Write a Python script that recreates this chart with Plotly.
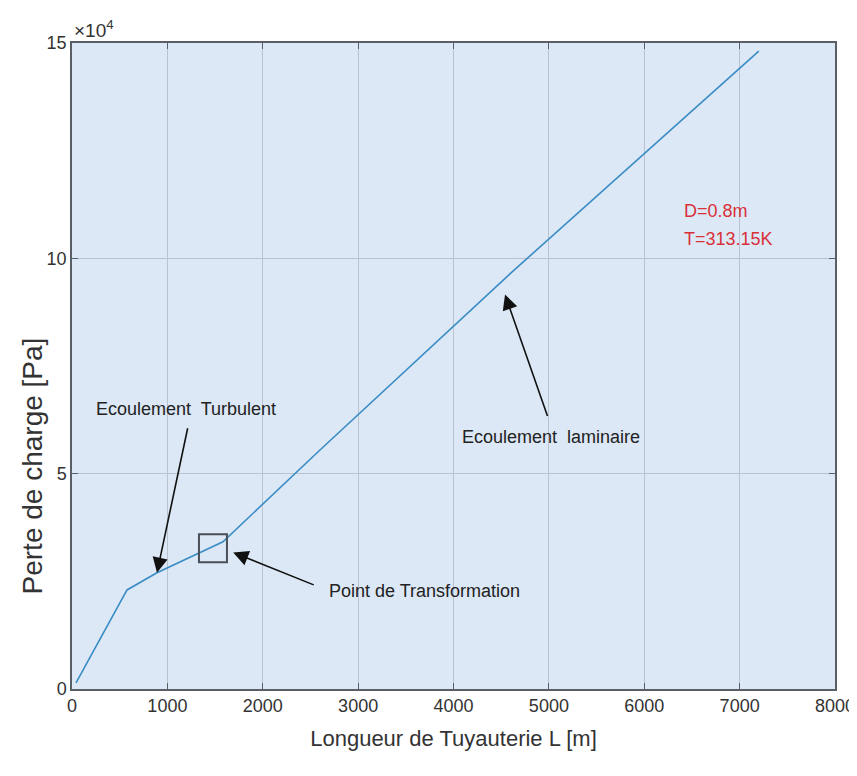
import plotly.graph_objects as go

# Data
length_m = [42, 577, 891, 1583, 2600, 3753, 4612, 7201]
pressure_loss_pa = [1400, 23000, 27000, 34200, 55500, 79300, 96800, 148100]

transform_L = [1478]
transform_dp = [32700]

x_ticks = [0, 1000, 2000, 3000, 4000, 5000, 6000, 7000, 8000]
y_tickvals = [0, 50000, 100000, 150000]
y_ticktext = ["0", "5", "10", "15"]

FONT = "Liberation Sans, Arial, sans-serif"

fig = go.Figure()
fig.add_trace(go.Scatter(x=length_m, y=pressure_loss_pa, mode="lines",
                         line=dict(color="#3a8cc4", width=1.6), showlegend=False))
fig.add_trace(go.Scatter(x=transform_L, y=transform_dp, mode="markers",
                         marker=dict(symbol="square-open", size=28,
                                     line=dict(color="#4a4f57", width=2), color="#4a4f57"),
                         showlegend=False))

ann_font = dict(family=FONT, size=18, color="#222")
arrow = dict(showarrow=True, arrowhead=2, arrowsize=1.9, arrowwidth=1.6, arrowcolor="#111", text="")
fig.add_annotation(x=891, y=27000, ax=31, ay=-146, **arrow)
fig.add_annotation(x=1195, y=65100, xanchor="center", yanchor="middle",
                   text="Ecoulement  Turbulent", showarrow=False, font=ann_font)
fig.add_annotation(x=1690, y=31700, ax=82, ay=33, **arrow)
fig.add_annotation(x=3700, y=22800, xanchor="center", yanchor="middle",
                   text="Point de Transformation", showarrow=False, font=ann_font)
fig.add_annotation(x=4540, y=91600, ax=43, ay=123, **arrow)
fig.add_annotation(x=5021, y=58600, xanchor="center", yanchor="middle",
                   text="Ecoulement  laminaire", showarrow=False, font=ann_font)

red_font = dict(family=FONT, size=18, color="#d9303a")
fig.add_annotation(x=6400, y=111000, xanchor="left", yanchor="middle",
                   text="D=0.8m", showarrow=False, font=red_font)
fig.add_annotation(x=6400, y=104500, xanchor="left", yanchor="middle",
                   text="T=313.15K", showarrow=False, font=red_font)

fig.add_annotation(xref="paper", yref="paper", x=0, y=1, xanchor="left", yanchor="bottom",
                   text="×10<sup>4</sup>", showarrow=False,
                   font=dict(family=FONT, size=19, color="#333"), yshift=0, xshift=0)

# y-axis title placed as rotated text (sits below the axis centre in the reference)
fig.add_annotation(xref="paper", yref="paper", x=-0.052, y=0.345, xanchor="center", yanchor="middle",
                   text="Perte de charge [Pa]", textangle=-90, showarrow=False,
                   font=dict(family=FONT, size=28, color="#333"))

axis_common = dict(showline=True, mirror="ticks", linecolor="#5a5f66", linewidth=1.5,
                   ticks="inside", ticklen=6, tickcolor="#5a5f66", tickwidth=1.2,
                   showgrid=True, gridcolor="#b8c3cf", gridwidth=1, zeroline=False,
                   automargin=False,
                   tickfont=dict(family=FONT, size=18, color="#333"))

# the page body adds an 8 px offset, so the figure is 8 px smaller on each axis
fig.update_layout(
    width=849, height=768,
    margin=dict(l=64, r=22, t=35, b=87),
    paper_bgcolor="white", plot_bgcolor="#dce8f6",
    xaxis=dict(range=[0, 8000], tickvals=x_ticks, **axis_common,
               title=dict(text="Longueur de Tuyauterie L [m]",
                          font=dict(family=FONT, size=22, color="#333"), standoff=15)),
    yaxis=dict(range=[0, 150000], tickvals=y_tickvals, ticktext=y_ticktext, **axis_common),
)

fig.write_html("out.html")
